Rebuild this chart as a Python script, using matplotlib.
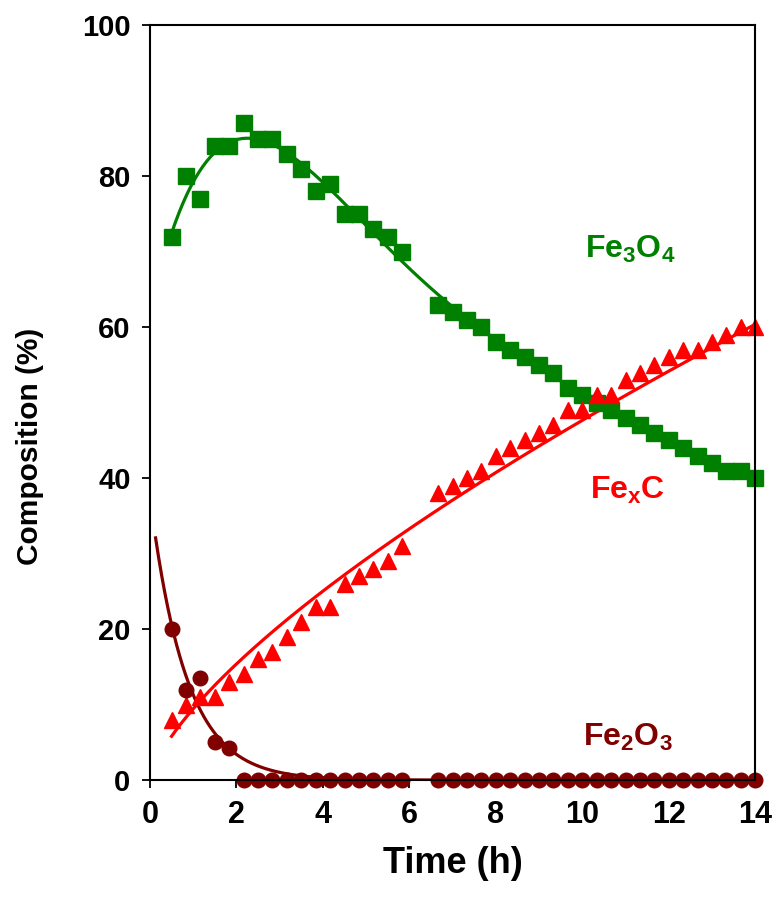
import numpy as np
import matplotlib
matplotlib.use("Agg")
import matplotlib.pyplot as plt

plt.rcParams['font.family'] = ['Liberation Sans', 'DejaVu Sans']
plt.rcParams['mathtext.fontset'] = 'custom'
plt.rcParams['mathtext.rm'] = 'Liberation Sans:bold'
plt.rcParams['mathtext.it'] = 'Liberation Sans:bold'
plt.rcParams['mathtext.bf'] = 'Liberation Sans:bold'

# sampling times (h): two runs of 20-min samples with a gap in between
t_early = (30 + 20 * np.arange(17)) / 60.0
t_late = (400 + 20 * np.arange(23)) / 60.0
time = np.concatenate([t_early, t_late])

fe3o4 = [72, 80, 77, 84, 84, 87, 85, 85, 83, 81, 78, 79, 75, 75, 73, 72, 70,
         63, 62, 61, 60, 58, 57, 56, 55, 54, 52, 51, 50, 49, 48, 47, 46, 45,
         44, 43, 42, 41, 41, 40]
fexc = [8, 10, 11, 11, 13, 14, 16, 17, 19, 21, 23, 23, 26, 27, 28, 29, 31,
        38, 39, 40, 41, 43, 44, 45, 46, 47, 49, 49, 51, 51, 53, 54, 55, 56,
        57, 57, 58, 59, 60, 60]
fe2o3 = [20, 12, 13.5, 5, 4.2] + [0] * 35

green = '#008000'
red = '#ff0000'
maroon = '#800000'

fig = plt.figure(figsize=(7.73, 9.05), dpi=100)
ax = fig.add_axes([0.194, 0.138, 0.783, 0.834])

# trend lines
tt = np.linspace(time[0], time[-1], 300)
p_mag = np.polyfit(time, fe3o4, 6)
ax.plot(tt, np.polyval(p_mag, tt), color=green, lw=2.3)

# power-law trend for the carbide
b, lna = np.polyfit(np.log(time), np.log(fexc), 1)
ax.plot(tt, np.exp(lna) * tt ** b, color=red, lw=2.3)

# exponential decay fitted on the non-zero hematite points
y_h = np.array(fe2o3)
nz = y_h > 0
k, lnA = np.polyfit(time[nz], np.log(y_h[nz]), 1)
th = np.linspace(0.13, 14, 400)
ax.plot(th, np.exp(lnA) * np.exp(k * th), color=maroon, lw=2.3)

# data points
ax.plot(time, fe3o4, 's', color=green, ms=11, mec=green, clip_on=False)
ax.plot(time, fexc, '^', color=red, ms=11, mec=red, clip_on=False)
ax.plot(time, fe2o3, 'o', color=maroon, ms=10.5, mec=maroon, clip_on=False)

ax.text(11.1, 70.3, r'Fe$_3$O$_4$', color=green, fontsize=23,
        fontweight='bold', ha='center', va='center')
ax.text(11.05, 38.4, r'Fe$_\mathrm{x}$C', color=red, fontsize=23,
        fontweight='bold', ha='center', va='center')
ax.text(11.05, 5.7, r'Fe$_2$O$_3$', color=maroon, fontsize=23,
        fontweight='bold', ha='center', va='center')

ax.set_xlim(0, 14)
ax.set_ylim(0, 100)
ax.set_xticks(np.arange(0, 15, 2))
ax.set_yticks(np.arange(0, 101, 20))
for s in ax.spines.values():
    s.set_linewidth(1.5)
ax.tick_params(direction='out', length=6, width=1.3, top=False, right=False,
               pad=8)
for lab in ax.get_xticklabels():
    lab.set_fontsize(22)
    lab.set_fontweight('bold')
for lab in ax.get_yticklabels():
    lab.set_fontsize(21)
    lab.set_fontweight('bold')

ax.set_xlabel('Time (h)', fontsize=26, fontweight='bold', labelpad=12)
ax.set_ylabel('Composition (%)', fontsize=21.5, fontweight='bold', va='center')
ax.yaxis.set_label_coords(-0.198, 0.442)

fig.savefig('out.png', dpi=100, facecolor='white')
